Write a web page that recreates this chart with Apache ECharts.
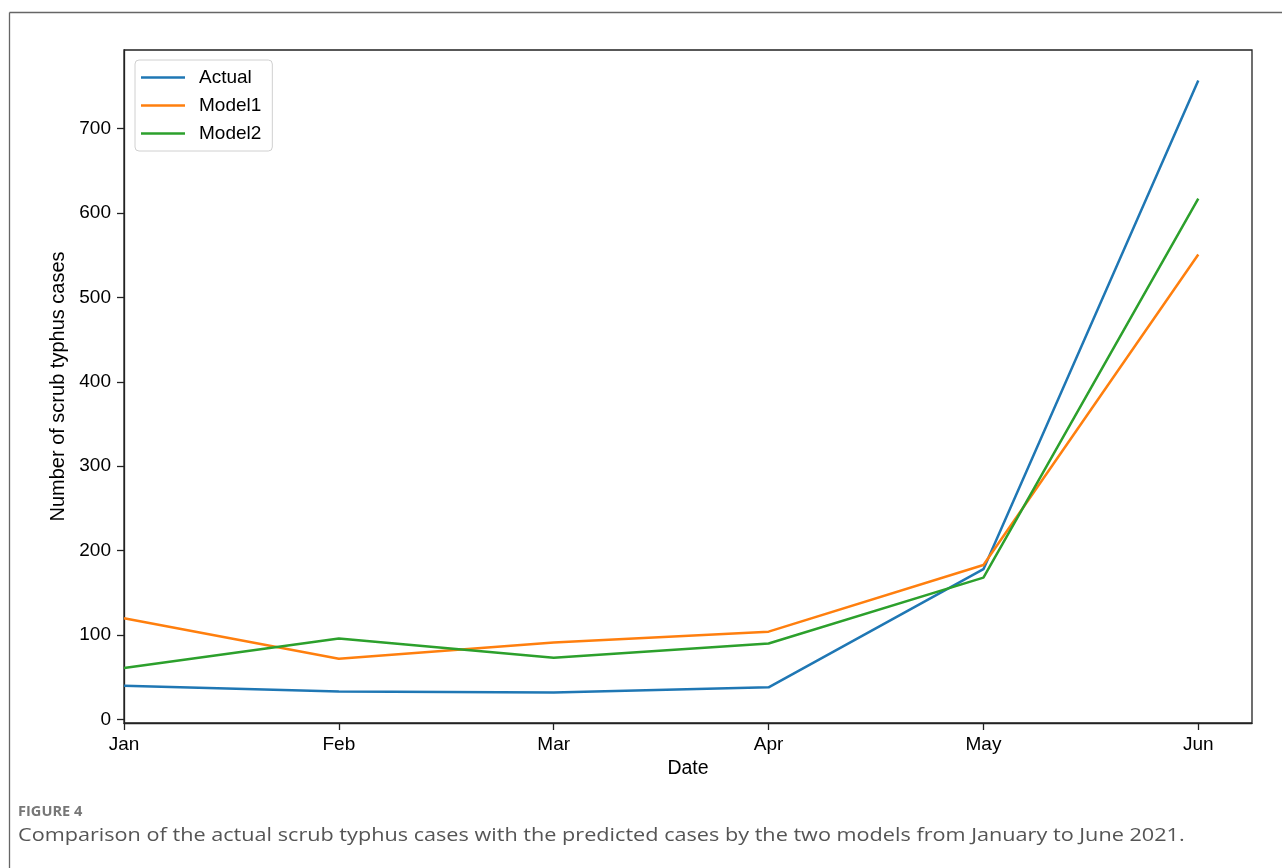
<!DOCTYPE html>
<html>
<head>
<meta charset="utf-8">
<script src="https://cdn.jsdelivr.net/npm/echarts@6/dist/echarts.min.js"></script>
<style>html,body{margin:0;padding:0;background:#fff;}#c{width:1282px;height:868px;}</style>
</head>
<body>
<div id="c"></div>
<script>
const months = ['Jan', 'Feb', 'Mar', 'Apr', 'May', 'Jun'];
const actual = [40, 33, 32, 38, 178, 757];
const model1 = [120, 72, 91, 104, 183, 551];
const model2 = [61, 96, 73, 90, 168, 617];
const yTicks = [0, 100, 200, 300, 400, 500, 600, 700];
const xTicks = [0, 1, 2, 3, 4, 5];
const seriesNames = ['Actual', 'Model1', 'Model2'];
const colors = ['#1f77b4', '#ff7f0e', '#2ca02c'];

const pairs = arr => arr.map((v, i) => [i, v]);
const font = '"Liberation Sans", Arial, sans-serif';

const chart = echarts.init(document.getElementById('c'));
chart.setOption({
  animation: false,
  backgroundColor: '#fff',
  grid: { left: 124, right: 30, top: 50, bottom: 145, show: true, borderColor: '#222', borderWidth: 1.3, backgroundColor: 'transparent' },
  legend: {
    orient: 'vertical', left: 135, top: 60,
    data: seriesNames,
    icon: 'rect', itemWidth: 44, itemHeight: 2.5, itemGap: 7,
    padding: [7, 11, 7, 6],
    borderColor: '#d0d0d0', borderWidth: 1, borderRadius: 4, backgroundColor: '#fff',
    textStyle: { fontFamily: font, fontSize: 19, color: '#000', lineHeight: 21, padding: [0, 0, 0, 9] }
  },
  xAxis: {
    type: 'value', min: 0, max: 5.25,
    name: 'Date', nameLocation: 'middle', nameGap: 30,
    nameTextStyle: { fontFamily: font, fontSize: 19.5, color: '#000', verticalAlign: 'top' },
    splitLine: { show: false },
    axisLine: { show: true, onZero: false, lineStyle: { color: '#222', width: 1.3 } },
    axisTick: { show: true, length: 7, lineStyle: { color: '#222', width: 1.3 }, customValues: xTicks },
    axisLabel: { fontFamily: font, fontSize: 19, color: '#000', margin: 12, customValues: xTicks, formatter: v => months[Math.round(v)] }
  },
  yAxis: {
    type: 'value', min: -4.25, max: 793.25,
    name: 'Number of scrub typhus cases', nameLocation: 'middle', nameGap: 56, nameRotate: 90,
    nameTextStyle: { fontFamily: font, fontSize: 20, color: '#000' },
    splitLine: { show: false },
    axisLine: { show: true, onZero: false, lineStyle: { color: '#222', width: 1.3 } },
    axisTick: { show: true, length: 7, lineStyle: { color: '#222', width: 1.3 }, customValues: yTicks },
    axisLabel: { fontFamily: font, fontSize: 19, color: '#000', margin: 13, customValues: yTicks }
  },
  series: [actual, model1, model2].map((d, i) => ({
    name: seriesNames[i], type: 'line', data: pairs(d), symbol: 'none',
    color: colors[i], lineStyle: { color: colors[i], width: 2.5 }, z: 2 + i
  })),
  graphic: [
    { type: 'line', shape: { x1: 9.5, y1: 12.5, x2: 1282, y2: 12.5 }, style: { stroke: '#666', lineWidth: 1.3 } },
    { type: 'line', shape: { x1: 9.5, y1: 12.5, x2: 9.5, y2: 868 }, style: { stroke: '#666', lineWidth: 1.3 } },
    { type: 'text', x: 18, y: 805, scaleX: 1.08, style: { text: 'FIGURE 4', font: 'bold 13.5px "Open Sans", sans-serif', fill: '#777' } },
    { type: 'text', x: 18, y: 826, scaleX: 1.17, style: { text: 'Comparison of the actual scrub typhus cases with the predicted cases by the two models from January to June 2021.', font: '18.5px "Open Sans", sans-serif', fill: '#555' } }
  ]
});
</script>
</body>
</html>
